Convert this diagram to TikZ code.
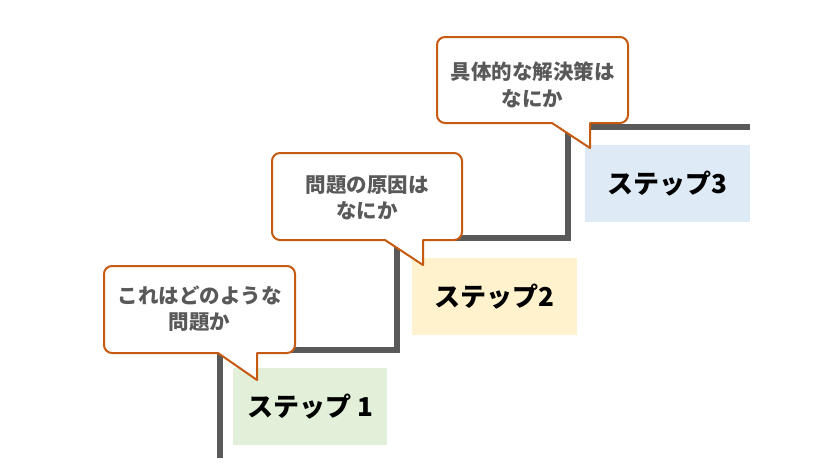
\documentclass[tikz,border=0pt]{standalone}
\usepackage{fontspec}
\newfontfamily\jp{Noto Sans CJK JP}
\definecolor{stair}{HTML}{595959}
\definecolor{bubline}{HTML}{C55A11}
\definecolor{bubtxt}{HTML}{595959}
\definecolor{s1fill}{HTML}{E2F0D9}
\definecolor{s2fill}{HTML}{FFF2CC}
\definecolor{s3fill}{HTML}{DEEBF7}
\tikzset{
  stepbox/.style={rectangle, draw=none, minimum height=77pt, inner sep=0pt,
    font=\jp\bfseries\fontsize{26}{30}\selectfont, text=black},
  bubtext/.style={align=center, inner sep=0pt,
    font=\jp\bfseries\fontsize{20.5}{26.5}\selectfont, text=bubtxt},
  bubble/.style={draw=bubline, fill=white, line width=2pt, line join=round},
  stairline/.style={draw=stair, line width=6pt}
}
\begin{document}
\begin{tikzpicture}[x=1pt,y=-1pt]
\useasboundingbox (0,0) rectangle (835,466);
% step boxes
\node[stepbox, fill=s1fill, minimum width=154pt] (s1) at (310,406.5) {ステップ 1};
\node[stepbox, fill=s2fill, minimum width=165pt] (s2) at (494.5,296.5) {ステップ2};
\node[stepbox, fill=s3fill, minimum width=165pt] (s3) at (667.5,183.5) {ステップ3};
% staircase
\coordinate (st0) at (220,458);
\coordinate (st1) at (220,350);
\coordinate (st2) at (397,350);
\coordinate (st3) at (397,238);
\coordinate (st4) at (568,238);
\coordinate (st5) at (568,127);
\coordinate (st6) at (750,127);
\draw[stairline] (st0) -- (st1) -- (st2) -- (st3) -- (st4) -- (st5) -- (st6);
% bubble 1
\draw[bubble] (257,380) -- (218,353) [rounded corners=8pt] -- (104,353) -- (104,266) -- (295,266) -- (295,353) [sharp corners] -- (257,353) -- cycle;
\node[bubtext] (b1) at (199.5,309) {これはどのような\\問題か};
% bubble 2
\draw[bubble] (423,265) -- (385,240) [rounded corners=8pt] -- (272,240) -- (272,153) -- (462,153) -- (462,240) [sharp corners] -- (423,240) -- cycle;
\node[bubtext] (b2) at (367,198) {問題の原因は\\なにか};
% bubble 3
\draw[bubble] (590,148) -- (552,123) [rounded corners=8pt] -- (437,123) -- (437,37) -- (628,37) -- (628,123) [sharp corners] -- (590,123) -- cycle;
\node[bubtext] (b3) at (532.5,85) {具体的な解決策は\\なにか};
\end{tikzpicture}
\end{document}
